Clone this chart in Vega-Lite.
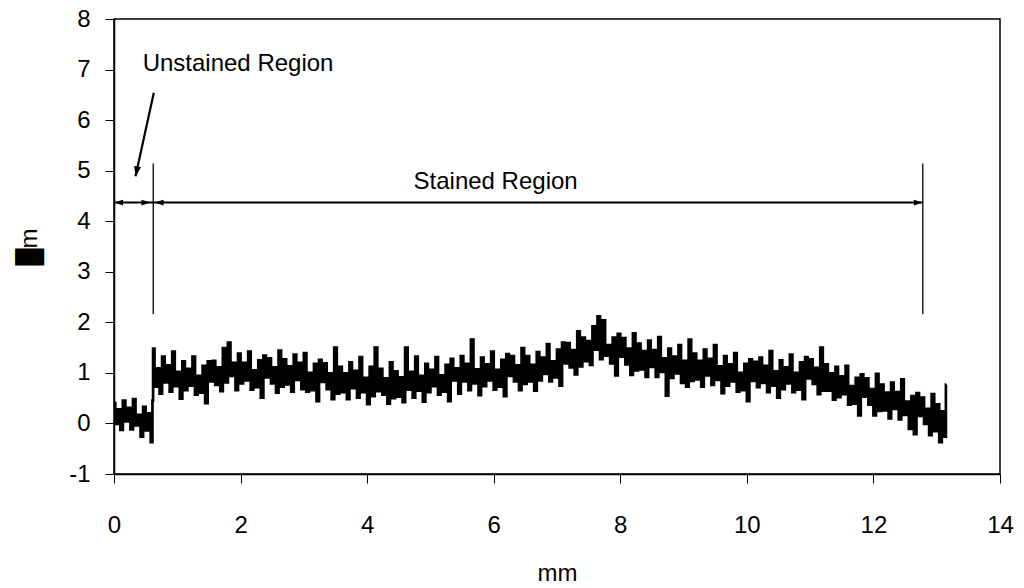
{
"$schema": "https://vega.github.io/schema/vega-lite/v6.json",
"width": 886, "height": 455,
"autosize": {"type": "none"},
"padding": {"left": 114, "top": 19, "right": 24, "bottom": 114},
"background": "white",
"config": {
  "view": {"stroke": "#000", "strokeWidth": 1.5},
  "font": "Liberation Sans",
  "axis": {"labelFont": "Liberation Sans", "titleFont": "Liberation Sans", "labelFontSize": 24, "titleFontSize": 24, "labelColor": "#000", "titleColor": "#000", "titleFontWeight": "normal", "domainColor": "#000", "domainWidth": 1.5, "tickColor": "#000", "tickWidth": 1, "tickSize": 9, "grid": false, "labelFlush": false, "labelOverlap": false}
},
"datasets": {
  "profile": [
{"x":0,"y":0.40},{"x":0.04,"y":-0.01},{"x":0.08,"y":0.28},{"x":0.12,"y":-0.13},{"x":0.16,"y":0.45},{"x":0.20,"y":0.04},{"x":0.24,"y":0.31},{"x":0.28,"y":-0.12},{"x":0.32,"y":0.48},{"x":0.36,"y":-0.04},{"x":0.40,"y":0.17},{"x":0.44,"y":-0.26},{"x":0.48,"y":0.33},{"x":0.52,"y":-0.14},{"x":0.56,"y":0.20},{"x":0.60,"y":-0.37},{"x":0.615,"y":0.45},
{"x":0.62,"y":1.48},{"x":0.66,"y":0.73},{"x":0.70,"y":1.09},{"x":0.74,"y":0.59},{"x":0.78,"y":1.32},{"x":0.82,"y":0.81},{"x":0.86,"y":1.15},{"x":0.90,"y":0.63},{"x":0.94,"y":1.42},{"x":0.98,"y":0.74},
{"x":1.02,"y":1.02},{"x":1.06,"y":0.49},{"x":1.10,"y":1.23},{"x":1.14,"y":0.66},{"x":1.18,"y":1.08},{"x":1.22,"y":0.75},{"x":1.26,"y":1.32},{"x":1.30,"y":0.57},{"x":1.34,"y":0.94},{"x":1.38,"y":0.61},
{"x":1.42,"y":1.14},{"x":1.46,"y":0.40},{"x":1.50,"y":1.23},{"x":1.54,"y":0.83},{"x":1.58,"y":1.24},{"x":1.62,"y":0.76},{"x":1.66,"y":1.11},{"x":1.70,"y":0.64},{"x":1.74,"y":1.49},{"x":1.78,"y":0.81},
{"x":1.82,"y":1.60},{"x":1.86,"y":0.94},{"x":1.90,"y":1.20},{"x":1.94,"y":0.66},{"x":1.98,"y":1.38},{"x":2.02,"y":0.79},{"x":2.06,"y":1.20},{"x":2.10,"y":0.85},{"x":2.14,"y":1.42},{"x":2.18,"y":0.67},
{"x":2.22,"y":1.05},{"x":2.26,"y":0.72},{"x":2.30,"y":1.25},{"x":2.34,"y":0.51},{"x":2.38,"y":1.34},{"x":2.42,"y":0.91},{"x":2.46,"y":1.29},{"x":2.50,"y":0.79},{"x":2.54,"y":1.11},{"x":2.58,"y":0.61},
{"x":2.62,"y":1.44},{"x":2.66,"y":0.73},{"x":2.70,"y":1.27},{"x":2.74,"y":0.77},{"x":2.78,"y":1.13},{"x":2.82,"y":0.63},{"x":2.86,"y":1.36},{"x":2.90,"y":0.86},{"x":2.94,"y":1.20},{"x":2.98,"y":0.68},
{"x":3.02,"y":1.39},{"x":3.06,"y":0.63},{"x":3.10,"y":1.00},{"x":3.14,"y":0.66},{"x":3.18,"y":1.18},{"x":3.22,"y":0.44},{"x":3.26,"y":1.26},{"x":3.30,"y":0.82},{"x":3.34,"y":1.19},{"x":3.38,"y":0.68},
{"x":3.42,"y":0.99},{"x":3.46,"y":0.48},{"x":3.50,"y":1.50},{"x":3.54,"y":0.59},{"x":3.58,"y":1.12},{"x":3.62,"y":0.62},{"x":3.66,"y":0.99},{"x":3.70,"y":0.48},{"x":3.74,"y":1.21},{"x":3.78,"y":0.70},
{"x":3.82,"y":1.04},{"x":3.86,"y":0.51},{"x":3.90,"y":1.31},{"x":3.94,"y":0.62},{"x":3.98,"y":0.90},{"x":4.02,"y":0.38},{"x":4.06,"y":1.12},{"x":4.10,"y":0.54},{"x":4.14,"y":1.50},{"x":4.18,"y":0.64},
{"x":4.22,"y":1.08},{"x":4.26,"y":0.57},{"x":4.30,"y":0.89},{"x":4.34,"y":0.39},{"x":4.38,"y":1.21},{"x":4.42,"y":0.50},{"x":4.46,"y":1.03},{"x":4.50,"y":0.53},{"x":4.54,"y":0.91},{"x":4.58,"y":0.42},
{"x":4.62,"y":1.50},{"x":4.66,"y":0.67},{"x":4.70,"y":1.02},{"x":4.74,"y":0.51},{"x":4.78,"y":1.32},{"x":4.82,"y":0.65},{"x":4.86,"y":0.94},{"x":4.90,"y":0.43},{"x":4.94,"y":1.18},{"x":4.98,"y":0.62},
{"x":5.02,"y":1.06},{"x":5.06,"y":0.74},{"x":5.10,"y":1.31},{"x":5.14,"y":0.57},{"x":5.18,"y":0.95},{"x":5.22,"y":0.63},{"x":5.26,"y":1.16},{"x":5.30,"y":0.44},{"x":5.34,"y":1.28},{"x":5.38,"y":0.85},
{"x":5.42,"y":1.09},{"x":5.46,"y":0.59},{"x":5.50,"y":1.33},{"x":5.54,"y":0.83},{"x":5.58,"y":1.18},{"x":5.62,"y":0.66},{"x":5.66,"y":1.66},{"x":5.70,"y":0.79},{"x":5.74,"y":1.07},{"x":5.78,"y":0.56},
{"x":5.82,"y":1.30},{"x":5.86,"y":0.74},{"x":5.90,"y":1.17},{"x":5.94,"y":0.85},{"x":5.98,"y":1.42},{"x":6.02,"y":0.67},{"x":6.06,"y":1.06},{"x":6.10,"y":0.73},{"x":6.14,"y":1.26},{"x":6.18,"y":0.54},
{"x":6.22,"y":1.37},{"x":6.26,"y":0.94},{"x":6.30,"y":1.33},{"x":6.34,"y":0.83},{"x":6.38,"y":1.15},{"x":6.42,"y":0.66},{"x":6.46,"y":1.49},{"x":6.50,"y":0.78},{"x":6.54,"y":1.33},{"x":6.58,"y":0.83},
{"x":6.62,"y":1.16},{"x":6.66,"y":0.65},{"x":6.70,"y":1.41},{"x":6.74,"y":0.85},{"x":6.78,"y":1.30},{"x":6.82,"y":0.98},{"x":6.86,"y":1.57},{"x":6.90,"y":0.83},{"x":6.94,"y":1.23},{"x":6.98,"y":0.91},
{"x":7.02,"y":1.46},{"x":7.06,"y":0.75},{"x":7.10,"y":1.60},{"x":7.14,"y":1.19},{"x":7.18,"y":1.59},{"x":7.22,"y":1.11},{"x":7.26,"y":1.45},{"x":7.30,"y":0.97},{"x":7.34,"y":1.82},{"x":7.38,"y":1.13},
{"x":7.42,"y":1.70},{"x":7.46,"y":1.23},{"x":7.50,"y":1.63},{"x":7.54,"y":1.16},{"x":7.58,"y":1.92},{"x":7.62,"y":1.46},{"x":7.66,"y":2.12},{"x":7.70,"y":1.27},{"x":7.74,"y":2.04},{"x":7.78,"y":1.34},
{"x":7.82,"y":1.55},{"x":7.86,"y":1.19},{"x":7.90,"y":1.70},{"x":7.94,"y":0.95},{"x":7.98,"y":1.77},{"x":8.02,"y":1.32},{"x":8.06,"y":1.69},{"x":8.10,"y":1.17},{"x":8.14,"y":1.48},{"x":8.18,"y":0.96},
{"x":8.22,"y":1.78},{"x":8.26,"y":1.05},{"x":8.30,"y":1.58},{"x":8.34,"y":1.07},{"x":8.38,"y":1.43},{"x":8.42,"y":0.92},{"x":8.46,"y":1.64},{"x":8.50,"y":1.12},{"x":8.54,"y":1.45},{"x":8.58,"y":0.92},
{"x":8.62,"y":1.71},{"x":8.66,"y":1.02},{"x":8.70,"y":1.29},{"x":8.74,"y":0.55},{"x":8.78,"y":1.48},{"x":8.82,"y":0.90},{"x":8.86,"y":1.32},{"x":8.90,"y":0.99},{"x":8.94,"y":1.55},{"x":8.98,"y":0.80},
{"x":9.02,"y":1.24},{"x":9.06,"y":0.73},{"x":9.10,"y":1.66},{"x":9.14,"y":0.84},{"x":9.18,"y":1.38},{"x":9.22,"y":0.87},{"x":9.26,"y":1.24},{"x":9.30,"y":0.73},{"x":9.34,"y":1.46},{"x":9.38,"y":0.95},
{"x":9.42,"y":1.28},{"x":9.46,"y":0.76},{"x":9.50,"y":1.55},{"x":9.54,"y":0.86},{"x":9.58,"y":1.13},{"x":9.62,"y":0.60},{"x":9.66,"y":1.33},{"x":9.70,"y":0.75},{"x":9.74,"y":1.17},{"x":9.78,"y":0.83},
{"x":9.82,"y":1.39},{"x":9.86,"y":0.63},{"x":9.90,"y":1.00},{"x":9.94,"y":0.66},{"x":9.98,"y":1.18},{"x":10.02,"y":0.44},{"x":10.06,"y":1.27},{"x":10.10,"y":0.84},{"x":10.14,"y":1.22},{"x":10.18,"y":0.72},
{"x":10.22,"y":1.30},{"x":10.26,"y":0.80},{"x":10.30,"y":1.14},{"x":10.34,"y":0.62},{"x":10.38,"y":1.43},{"x":10.42,"y":0.75},{"x":10.46,"y":1.03},{"x":10.50,"y":0.51},{"x":10.54,"y":1.25},{"x":10.58,"y":0.68},
{"x":10.62,"y":1.11},{"x":10.66,"y":0.79},{"x":10.70,"y":1.36},{"x":10.74,"y":0.62},{"x":10.78,"y":1.00},{"x":10.82,"y":0.67},{"x":10.86,"y":1.21},{"x":10.90,"y":0.48},{"x":10.94,"y":1.31},{"x":10.98,"y":0.89},
{"x":11.02,"y":1.27},{"x":11.06,"y":0.78},{"x":11.10,"y":1.10},{"x":11.14,"y":0.58},{"x":11.18,"y":1.50},{"x":11.22,"y":0.65},{"x":11.26,"y":1.17},{"x":11.30,"y":0.65},{"x":11.34,"y":0.99},{"x":11.38,"y":0.47},
{"x":11.42,"y":1.12},{"x":11.46,"y":0.52},{"x":11.50,"y":0.93},{"x":11.54,"y":0.58},{"x":11.58,"y":1.14},{"x":11.62,"y":0.37},{"x":11.66,"y":0.74},{"x":11.70,"y":0.39},{"x":11.74,"y":0.90},{"x":11.78,"y":0.16},
{"x":11.82,"y":0.97},{"x":11.86,"y":0.53},{"x":11.90,"y":0.89},{"x":11.94,"y":0.37},{"x":11.98,"y":0.68},{"x":12.02,"y":0.16},{"x":12.06,"y":0.98},{"x":12.10,"y":0.25},{"x":12.14,"y":0.77},{"x":12.18,"y":0.26},
{"x":12.22,"y":0.61},{"x":12.26,"y":0.10},{"x":12.30,"y":0.81},{"x":12.34,"y":0.29},{"x":12.38,"y":0.62},{"x":12.42,"y":0.08},{"x":12.46,"y":0.87},{"x":12.50,"y":0.17},{"x":12.54,"y":0.43},{"x":12.58,"y":-0.11},
{"x":12.62,"y":0.54},{"x":12.66,"y":-0.21},{"x":12.70,"y":0.60},{"x":12.74,"y":0.15},{"x":12.78,"y":0.51},{"x":12.82,"y":-0.01},{"x":12.86,"y":0.29},{"x":12.90,"y":-0.23},{"x":12.94,"y":0.58},{"x":12.98,"y":-0.15},
{"x":13.02,"y":0.38},{"x":13.06,"y":-0.37},{"x":13.10,"y":0.24},{"x":13.14,"y":-0.26},{"x":13.15,"y":0.77}
  ],
  "vlines": [{"x": 0.62, "y": 2.16, "y2": 5.14}, {"x": 12.78, "y": 2.16, "y2": 5.14}],
  "hline": [{"x": 0, "x2": 12.78, "y": 4.37}],
  "slant": [{"x": 0.629, "y": 6.54, "x2": 0.34, "y2": 4.89}],
  "headsRight": [{"x": 0.577, "y": 4.37}, {"x": 12.78, "y": 4.37}],
  "headsLeft": [{"x": 0.0, "y": 4.37}, {"x": 0.64, "y": 4.37}],
  "headSlant": [{"x": 0.34, "y": 4.89}],
  "labels": [{"x": 1.96, "y": 6.965, "text": "Unstained Region"}, {"x": 6.03, "y": 4.63, "text": "Stained Region"}]
},
"layer": [
  {
    "data": {"name": "profile"},
    "mark": {"type": "line", "color": "#000", "strokeWidth": 2.7, "interpolate": "step", "strokeJoin": "miter", "clip": true},
    "encoding": {
      "x": {"field": "x", "type": "quantitative", "scale": {"domain": [0, 14], "nice": false, "zero": false},
        "axis": {"values": [0, 2, 4, 6, 8, 10, 12, 14], "title": "mm", "labelPadding": 30, "titlePadding": 24, "labelExpr": "toString(datum.value)"}},
      "y": {"field": "y", "type": "quantitative", "scale": {"domain": [-1, 8], "nice": false, "zero": false},
        "axis": {"values": [-1, 0, 1, 2, 3, 4, 5, 6, 7, 8], "title": "█m", "labelPadding": 15, "titlePadding": 27, "labelExpr": "toString(datum.value)"}}
    }
  },
  {
    "data": {"name": "vlines"},
    "mark": {"type": "rule", "color": "#000", "strokeWidth": 1.3},
    "encoding": {"x": {"field": "x", "type": "quantitative"}, "y": {"field": "y", "type": "quantitative"}, "y2": {"field": "y2"}}
  },
  {
    "data": {"name": "hline"},
    "mark": {"type": "rule", "color": "#000", "strokeWidth": 2.2},
    "encoding": {"x": {"field": "x", "type": "quantitative"}, "x2": {"field": "x2"}, "y": {"field": "y", "type": "quantitative"}}
  },
  {
    "data": {"name": "slant"},
    "mark": {"type": "rule", "color": "#000", "strokeWidth": 2.2},
    "encoding": {"x": {"field": "x", "type": "quantitative"}, "x2": {"field": "x2"}, "y": {"field": "y", "type": "quantitative"}, "y2": {"field": "y2"}}
  },
  {
    "data": {"name": "headsRight"},
    "mark": {"type": "point", "shape": "M0,0L-1,-0.32L-1,0.32Z", "filled": true, "color": "#000", "size": 324, "opacity": 1, "strokeWidth": 0, "angle": 0},
    "encoding": {"x": {"field": "x", "type": "quantitative"}, "y": {"field": "y", "type": "quantitative"}}
  },
  {
    "data": {"name": "headsLeft"},
    "mark": {"type": "point", "shape": "M0,0L-1,-0.32L-1,0.32Z", "filled": true, "color": "#000", "size": 324, "opacity": 1, "strokeWidth": 0, "angle": 180},
    "encoding": {"x": {"field": "x", "type": "quantitative"}, "y": {"field": "y", "type": "quantitative"}}
  },
  {
    "data": {"name": "headSlant"},
    "mark": {"type": "point", "shape": "M0,0L-1,-0.35L-1,0.35Z", "filled": true, "color": "#000", "size": 400, "opacity": 1, "strokeWidth": 0, "angle": 102},
    "encoding": {"x": {"field": "x", "type": "quantitative"}, "y": {"field": "y", "type": "quantitative"}}
  },
  {
    "data": {"name": "labels"},
    "mark": {"type": "text", "font": "Liberation Sans", "fontSize": 24, "color": "#000", "align": "center", "baseline": "alphabetic"},
    "encoding": {"x": {"field": "x", "type": "quantitative"}, "y": {"field": "y", "type": "quantitative"}, "text": {"field": "text"}}
  }
]
}
